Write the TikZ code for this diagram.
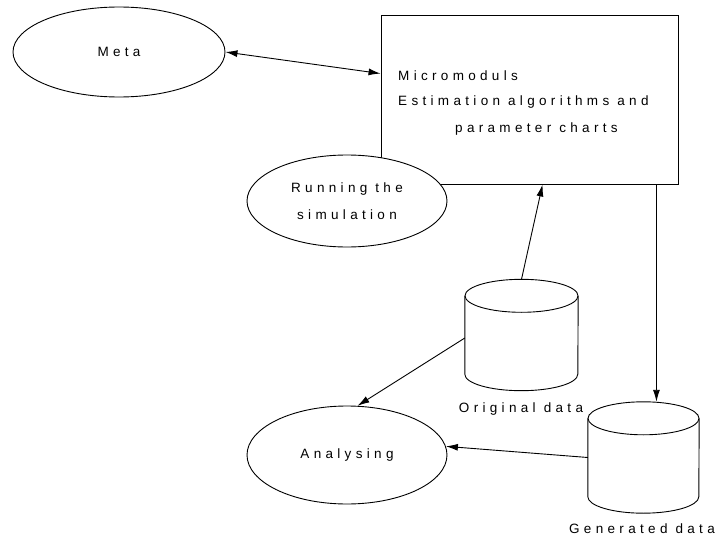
\documentclass[tikz,border=0pt]{standalone}
\usepackage{fontspec}
\setmainfont{Liberation Sans}[LetterSpace=32]
\usetikzlibrary{shapes.geometric,arrows.meta,calc}
\begin{document}
\begin{tikzpicture}[x=1pt,y=-1pt,
  lbl/.style={font=\fontsize{13.5}{27}\selectfont, inner sep=0pt},
  oval/.style={ellipse, draw, fill=white, inner sep=0pt, line width=0.9pt, lbl, align=center},
  ln/.style={line width=0.9pt},
  arr/.style={line width=0.9pt, -{Latex[length=12pt,width=7pt]}},
  biarr/.style={line width=0.9pt, {Latex[length=12pt,width=7pt]}-{Latex[length=12pt,width=7pt]}},
  cylarea/.style={inner sep=0pt, minimum width=#1, minimum height=111pt}
]
\useasboundingbox (0,0) rectangle (716,538);

% main box
\node[draw, ln, minimum width=297pt, minimum height=169pt, inner sep=0pt] (box) at (529.5,99.5) {};
\node[lbl, anchor=base west] (t1) at (398,80) {Micromoduls};
\node[lbl, anchor=base west] (t2) at (398,105) {Estimation algorithms and};
\node[lbl, anchor=base west] (t3) at (455,132) {parameter charts};

% ellipses
\node[oval, minimum width=212pt, minimum height=90pt] (meta) at (119,52) {Meta};
\node[oval, minimum width=200pt, minimum height=92pt] (run) at (347,201) {Running the\\simulation};
\node[oval, minimum width=200pt, minimum height=98pt] (ana) at (347,455) {Analysing};

% cylinders
\node[cylarea=113pt] (orig) at (521.5,335) {};
\draw[ln] ($(orig.north)+(0,16.5)$) ellipse [x radius=56.5, y radius=16.5];
\draw[ln] ($(orig.north west)+(0,16.5)$) -- ($(orig.south west)+(0,-16.5)$)
  arc[start angle=180, end angle=0, x radius=56.5, y radius=16.5]
  -- ($(orig.north east)+(0,16.5)$);
\node[lbl, anchor=base] (origt) at (521,412) {Original data};

\node[cylarea=111pt] (gen) at (643.5,457.5) {};
\draw[ln] ($(gen.north)+(0,16.5)$) ellipse [x radius=55.5, y radius=16.5];
\draw[ln] ($(gen.north west)+(0,16.5)$) -- ($(gen.south west)+(0,-16.5)$)
  arc[start angle=180, end angle=0, x radius=55.5, y radius=16.5]
  -- ($(gen.north east)+(0,16.5)$);
\node[lbl, anchor=base] (gent) at (642,533) {Generated data};

% connectors
\draw[biarr] (meta.east) -- ($(box.north west)+(0,59)$);
\draw[arr] (orig.north) -- ($(box.south west)+(162,0)$);
\coordinate (bx) at ($(box.south east)+(-22,0)$);
\draw[arr] (bx) -- (bx |- gen.north);
\draw[arr] ($(orig.west)+(0,3)$) -- (ana.78);
\draw[arr] (gen.west) -- (ana.5);
\end{tikzpicture}
\end{document}
